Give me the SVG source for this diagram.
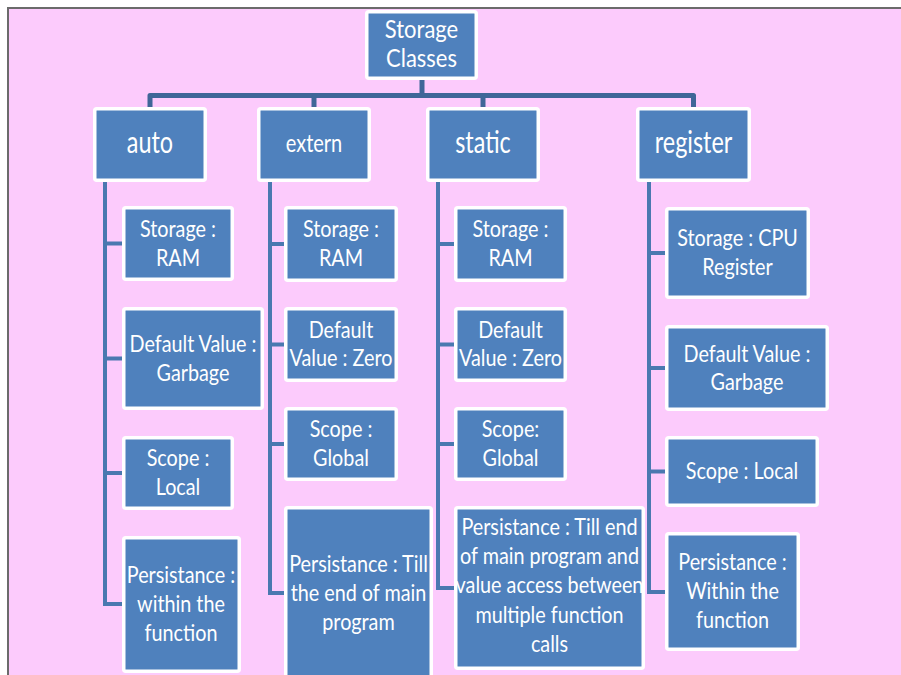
<svg xmlns="http://www.w3.org/2000/svg" width="901" height="675" viewBox="0 0 901 675">
  <style>
    .box { fill: #4F81BD; stroke: #FFFFFF; stroke-width: 3.5; }
    .lbl { fill: #FFFFFF; font-family: Lato, "Liberation Sans", sans-serif; text-anchor: middle; }
    .t0 { font-size: 25px; }
    .t1 { font-size: 30px; }
    .t1s { font-size: 25px; }
    .t2 { font-size: 23px; }
    .trunk { fill: none; stroke: #3F6698; stroke-width: 5; stroke-linejoin: round; }
    .branch { fill: none; stroke: #4A78B0; stroke-width: 4; stroke-linejoin: miter; }
  </style>

  <!-- page frame -->
  <rect x="0" y="0" width="901" height="675" fill="#FFFFFF"/>
  <rect x="8" y="8" width="893" height="667" fill="#FCCBFC"/>
  <path d="M8,675 V8 H901" fill="none" stroke="#6B6B6B" stroke-width="2"/>

  <!-- connectors -->
  <g id="connectors">
    <path class="trunk" d="M422,80 V95.5"/>
    <path class="trunk" d="M150,107 V95.5 H693.5 V107"/>
    <path class="trunk" d="M314,95.5 V107"/>
    <path class="trunk" d="M483,95.5 V107"/>

    <!-- auto column -->
    <path class="branch" d="M105,182 V604 H122"/>
    <path class="branch" d="M105,243.5 H122 M105,358.5 H122 M105,473 H122"/>
    <!-- extern column -->
    <path class="branch" d="M270,182 V593 H284"/>
    <path class="branch" d="M270,244 H284 M270,344.5 H284 M270,444 H284"/>
    <!-- static column -->
    <path class="branch" d="M438,182 V588 H454"/>
    <path class="branch" d="M438,244 H454 M438,344.5 H454 M438,444 H454"/>
    <!-- register column -->
    <path class="branch" d="M649,182 V592 H665"/>
    <path class="branch" d="M649,253 H665 M649,368 H665 M649,471.5 H665"/>
  </g>

  <!-- root -->
  <g id="root">
    <rect class="box" x="366.75" y="11.75" width="109.5" height="66.5" rx="2"/>
    <text class="lbl t0" transform="translate(421.5,0) scale(0.88,1)"><tspan x="0" y="38.5">Storage</tspan><tspan x="0" y="67.5">Classes</tspan></text>
  </g>

  <!-- storage classes -->
  <g id="auto">
    <rect class="box" x="94.75" y="108.75" width="110.5" height="71.5" rx="2"/>
    <text class="lbl t1" transform="translate(150,0) scale(0.78,1)"><tspan x="0" y="153">auto</tspan></text>
  </g>
  <g id="extern">
    <rect class="box" x="258.75" y="108.75" width="110.5" height="71.5" rx="2"/>
    <text class="lbl t1s" transform="translate(314,0) scale(0.8,1)"><tspan x="0" y="152">extern</tspan></text>
  </g>
  <g id="static">
    <rect class="box" x="427.75" y="108.75" width="110.5" height="71.5" rx="2"/>
    <text class="lbl t1" transform="translate(483,0) scale(0.78,1)"><tspan x="0" y="153">static</tspan></text>
  </g>
  <g id="register">
    <rect class="box" x="637.75" y="108.75" width="111.5" height="71.5" rx="2"/>
    <text class="lbl t1" transform="translate(693.5,0) scale(0.78,1)"><tspan x="0" y="153">register</tspan></text>
  </g>

  <!-- auto properties -->
  <g id="auto-storage">
    <rect class="box" x="123.75" y="207.75" width="108.5" height="71.5" rx="2"/>
    <text class="lbl t2" transform="translate(178,0) scale(0.86,1)"><tspan x="0" y="237">Storage :</tspan><tspan x="0" y="266">RAM</tspan></text>
  </g>
  <g id="auto-default">
    <rect class="box" x="123.75" y="308.75" width="138.5" height="99.5" rx="2"/>
    <text class="lbl t2" transform="translate(193,0) scale(0.86,1)"><tspan x="0" y="352">Default Value :</tspan><tspan x="0" y="381">Garbage</tspan></text>
  </g>
  <g id="auto-scope">
    <rect class="box" x="123.75" y="437.75" width="108.5" height="70.5" rx="2"/>
    <text class="lbl t2" transform="translate(178,0) scale(0.86,1)"><tspan x="0" y="466">Scope :</tspan><tspan x="0" y="495">Local</tspan></text>
  </g>
  <g id="auto-persistance">
    <rect class="box" x="123.75" y="537.75" width="115.5" height="133.5" rx="2"/>
    <text class="lbl t2" transform="translate(181,0) scale(0.86,1)"><tspan x="0" y="583.5">Persistance :</tspan><tspan x="0" y="612.5">within the</tspan><tspan x="0" y="641.5">function</tspan></text>
  </g>

  <!-- extern properties -->
  <g id="extern-storage">
    <rect class="box" x="285.75" y="207.75" width="110.5" height="72.5" rx="2"/>
    <text class="lbl t2" transform="translate(341,0) scale(0.86,1)"><tspan x="0" y="237">Storage :</tspan><tspan x="0" y="266">RAM</tspan></text>
  </g>
  <g id="extern-default">
    <rect class="box" x="285.75" y="308.75" width="110.5" height="71.5" rx="2"/>
    <text class="lbl t2" transform="translate(341,0) scale(0.86,1)"><tspan x="0" y="338">Default</tspan><tspan x="0" y="366.5">Value : Zero</tspan></text>
  </g>
  <g id="extern-scope">
    <rect class="box" x="285.75" y="408.75" width="110.5" height="70.5" rx="2"/>
    <text class="lbl t2" transform="translate(341,0) scale(0.86,1)"><tspan x="0" y="437">Scope :</tspan><tspan x="0" y="466">Global</tspan></text>
  </g>
  <g id="extern-persistance">
    <rect class="box" x="285.75" y="507.75" width="145.5" height="172" rx="2"/>
    <text class="lbl t2" transform="translate(358.5,0) scale(0.86,1)"><tspan x="0" y="572">Persistance : Till</tspan><tspan x="0" y="601">the end of main</tspan><tspan x="0" y="630">program</tspan></text>
  </g>

  <!-- static properties -->
  <g id="static-storage">
    <rect class="box" x="455.75" y="207.75" width="109.5" height="72.5" rx="2"/>
    <text class="lbl t2" transform="translate(510.5,0) scale(0.86,1)"><tspan x="0" y="237">Storage :</tspan><tspan x="0" y="266">RAM</tspan></text>
  </g>
  <g id="static-default">
    <rect class="box" x="455.75" y="308.75" width="109.5" height="71.5" rx="2"/>
    <text class="lbl t2" transform="translate(510.5,0) scale(0.86,1)"><tspan x="0" y="338">Default</tspan><tspan x="0" y="366.5">Value : Zero</tspan></text>
  </g>
  <g id="static-scope">
    <rect class="box" x="455.75" y="408.75" width="109.5" height="70.5" rx="2"/>
    <text class="lbl t2" transform="translate(510.5,0) scale(0.86,1)"><tspan x="0" y="437">Scope:</tspan><tspan x="0" y="466">Global</tspan></text>
  </g>
  <g id="static-persistance">
    <rect class="box" x="455.75" y="507.75" width="187.5" height="160.5" rx="2"/>
    <text class="lbl t2" transform="translate(549.5,0) scale(0.86,1)"><tspan x="0" y="535">Persistance : Till end</tspan><tspan x="0" y="564">of main program and</tspan><tspan x="0" y="593">value access between</tspan><tspan x="0" y="623">multiple function</tspan><tspan x="0" y="652">calls</tspan></text>
  </g>

  <!-- register properties -->
  <g id="register-storage">
    <rect class="box" x="666.75" y="208.75" width="141.5" height="88.5" rx="2"/>
    <text class="lbl t2" transform="translate(737.5,0) scale(0.86,1)"><tspan x="0" y="246">Storage : CPU</tspan><tspan x="0" y="275">Register</tspan></text>
  </g>
  <g id="register-default">
    <rect class="box" x="666.75" y="326.75" width="160.5" height="82.5" rx="2"/>
    <text class="lbl t2" transform="translate(747,0) scale(0.86,1)"><tspan x="0" y="362">Default Value :</tspan><tspan x="0" y="390.5">Garbage</tspan></text>
  </g>
  <g id="register-scope">
    <rect class="box" x="666.75" y="437.75" width="150.5" height="67.5" rx="2"/>
    <text class="lbl t2" transform="translate(742,0) scale(0.86,1)"><tspan x="0" y="479.5">Scope : Local</tspan></text>
  </g>
  <g id="register-persistance">
    <rect class="box" x="666.75" y="533.75" width="131.5" height="115.5" rx="2"/>
    <text class="lbl t2" transform="translate(732.5,0) scale(0.86,1)"><tspan x="0" y="570.5">Persistance :</tspan><tspan x="0" y="599">Within the</tspan><tspan x="0" y="628">function</tspan></text>
  </g>
</svg>
